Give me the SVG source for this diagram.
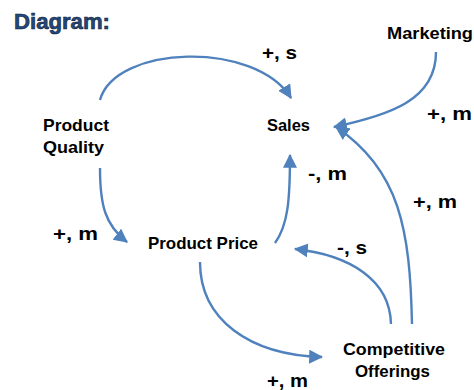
<svg xmlns="http://www.w3.org/2000/svg" width="474" height="390" viewBox="0 0 474 390">
<style>
.n{font-family:"Liberation Sans",Arial,sans-serif;font-weight:bold;font-size:17px;fill:#000}
.l{font-family:"Liberation Sans",Arial,sans-serif;font-weight:bold;font-size:19px;fill:#000}
.t{font-family:"Liberation Sans",Arial,sans-serif;font-weight:bold;font-size:22px;fill:#24487A;stroke:#0d1f3a;stroke-width:0.6}
.c{fill:none;stroke:#4F81BD;stroke-width:2.4;marker-end:url(#ah)}
</style>
<defs>
<marker id="ah" viewBox="0 0 12 12" refX="11" refY="6" markerWidth="14" markerHeight="14" markerUnits="userSpaceOnUse" orient="auto">
<path d="M0,0 L12,6 L0,12 Z" fill="#4F81BD"/>
</marker>
</defs>
<text class="t" x="14" y="29" textLength="96" lengthAdjust="spacingAndGlyphs">Diagram:</text>
<g id="connectors">
<path class="c" d="M100,100 C115,45 255,40 291,98"/>
<path class="c" d="M436,52 C436,100 390,115 334,127"/>
<path class="c" d="M412,324 C410,230 400,170 336,127"/>
<path class="c" d="M275,243 C288,225 290,200 290,155"/>
<path class="c" d="M391,324 C390,280 350,255 295,249"/>
<path class="c" d="M100,168 C100,205 105,225 127,242"/>
<path class="c" d="M200,262 C200,320 250,355 322,357"/>
</g>
<g id="labels">
<text class="l" x="262" y="59" textLength="35" lengthAdjust="spacingAndGlyphs">+, s</text>
<text class="l" x="427" y="120" textLength="45" lengthAdjust="spacingAndGlyphs">+, m</text>
<text class="l" x="308" y="180" textLength="39" lengthAdjust="spacingAndGlyphs">-, m</text>
<text class="l" x="413" y="208" textLength="44" lengthAdjust="spacingAndGlyphs">+, m</text>
<text class="l" x="337" y="254" textLength="30" lengthAdjust="spacingAndGlyphs">-, s</text>
<text class="l" x="53" y="240" textLength="45" lengthAdjust="spacingAndGlyphs">+, m</text>
<text class="l" x="267" y="387" textLength="41" lengthAdjust="spacingAndGlyphs">+, m</text>
</g>
<g id="marketing"><text class="n" x="387" y="39" textLength="86" lengthAdjust="spacingAndGlyphs">Marketing</text></g>
<g id="sales"><text class="n" x="267" y="131" textLength="43" lengthAdjust="spacingAndGlyphs">Sales</text></g>
<g id="product-quality">
<text class="n" x="43" y="131" textLength="66" lengthAdjust="spacingAndGlyphs">Product</text>
<text class="n" x="43" y="153" textLength="61" lengthAdjust="spacingAndGlyphs">Quality</text>
</g>
<g id="product-price"><text class="n" x="148" y="249" textLength="110" lengthAdjust="spacingAndGlyphs">Product Price</text></g>
<g id="competitive-offerings">
<text class="n" x="343" y="355" textLength="102" lengthAdjust="spacingAndGlyphs">Competitive</text>
<text class="n" x="355" y="377" textLength="75" lengthAdjust="spacingAndGlyphs">Offerings</text>
</g>
</svg>
